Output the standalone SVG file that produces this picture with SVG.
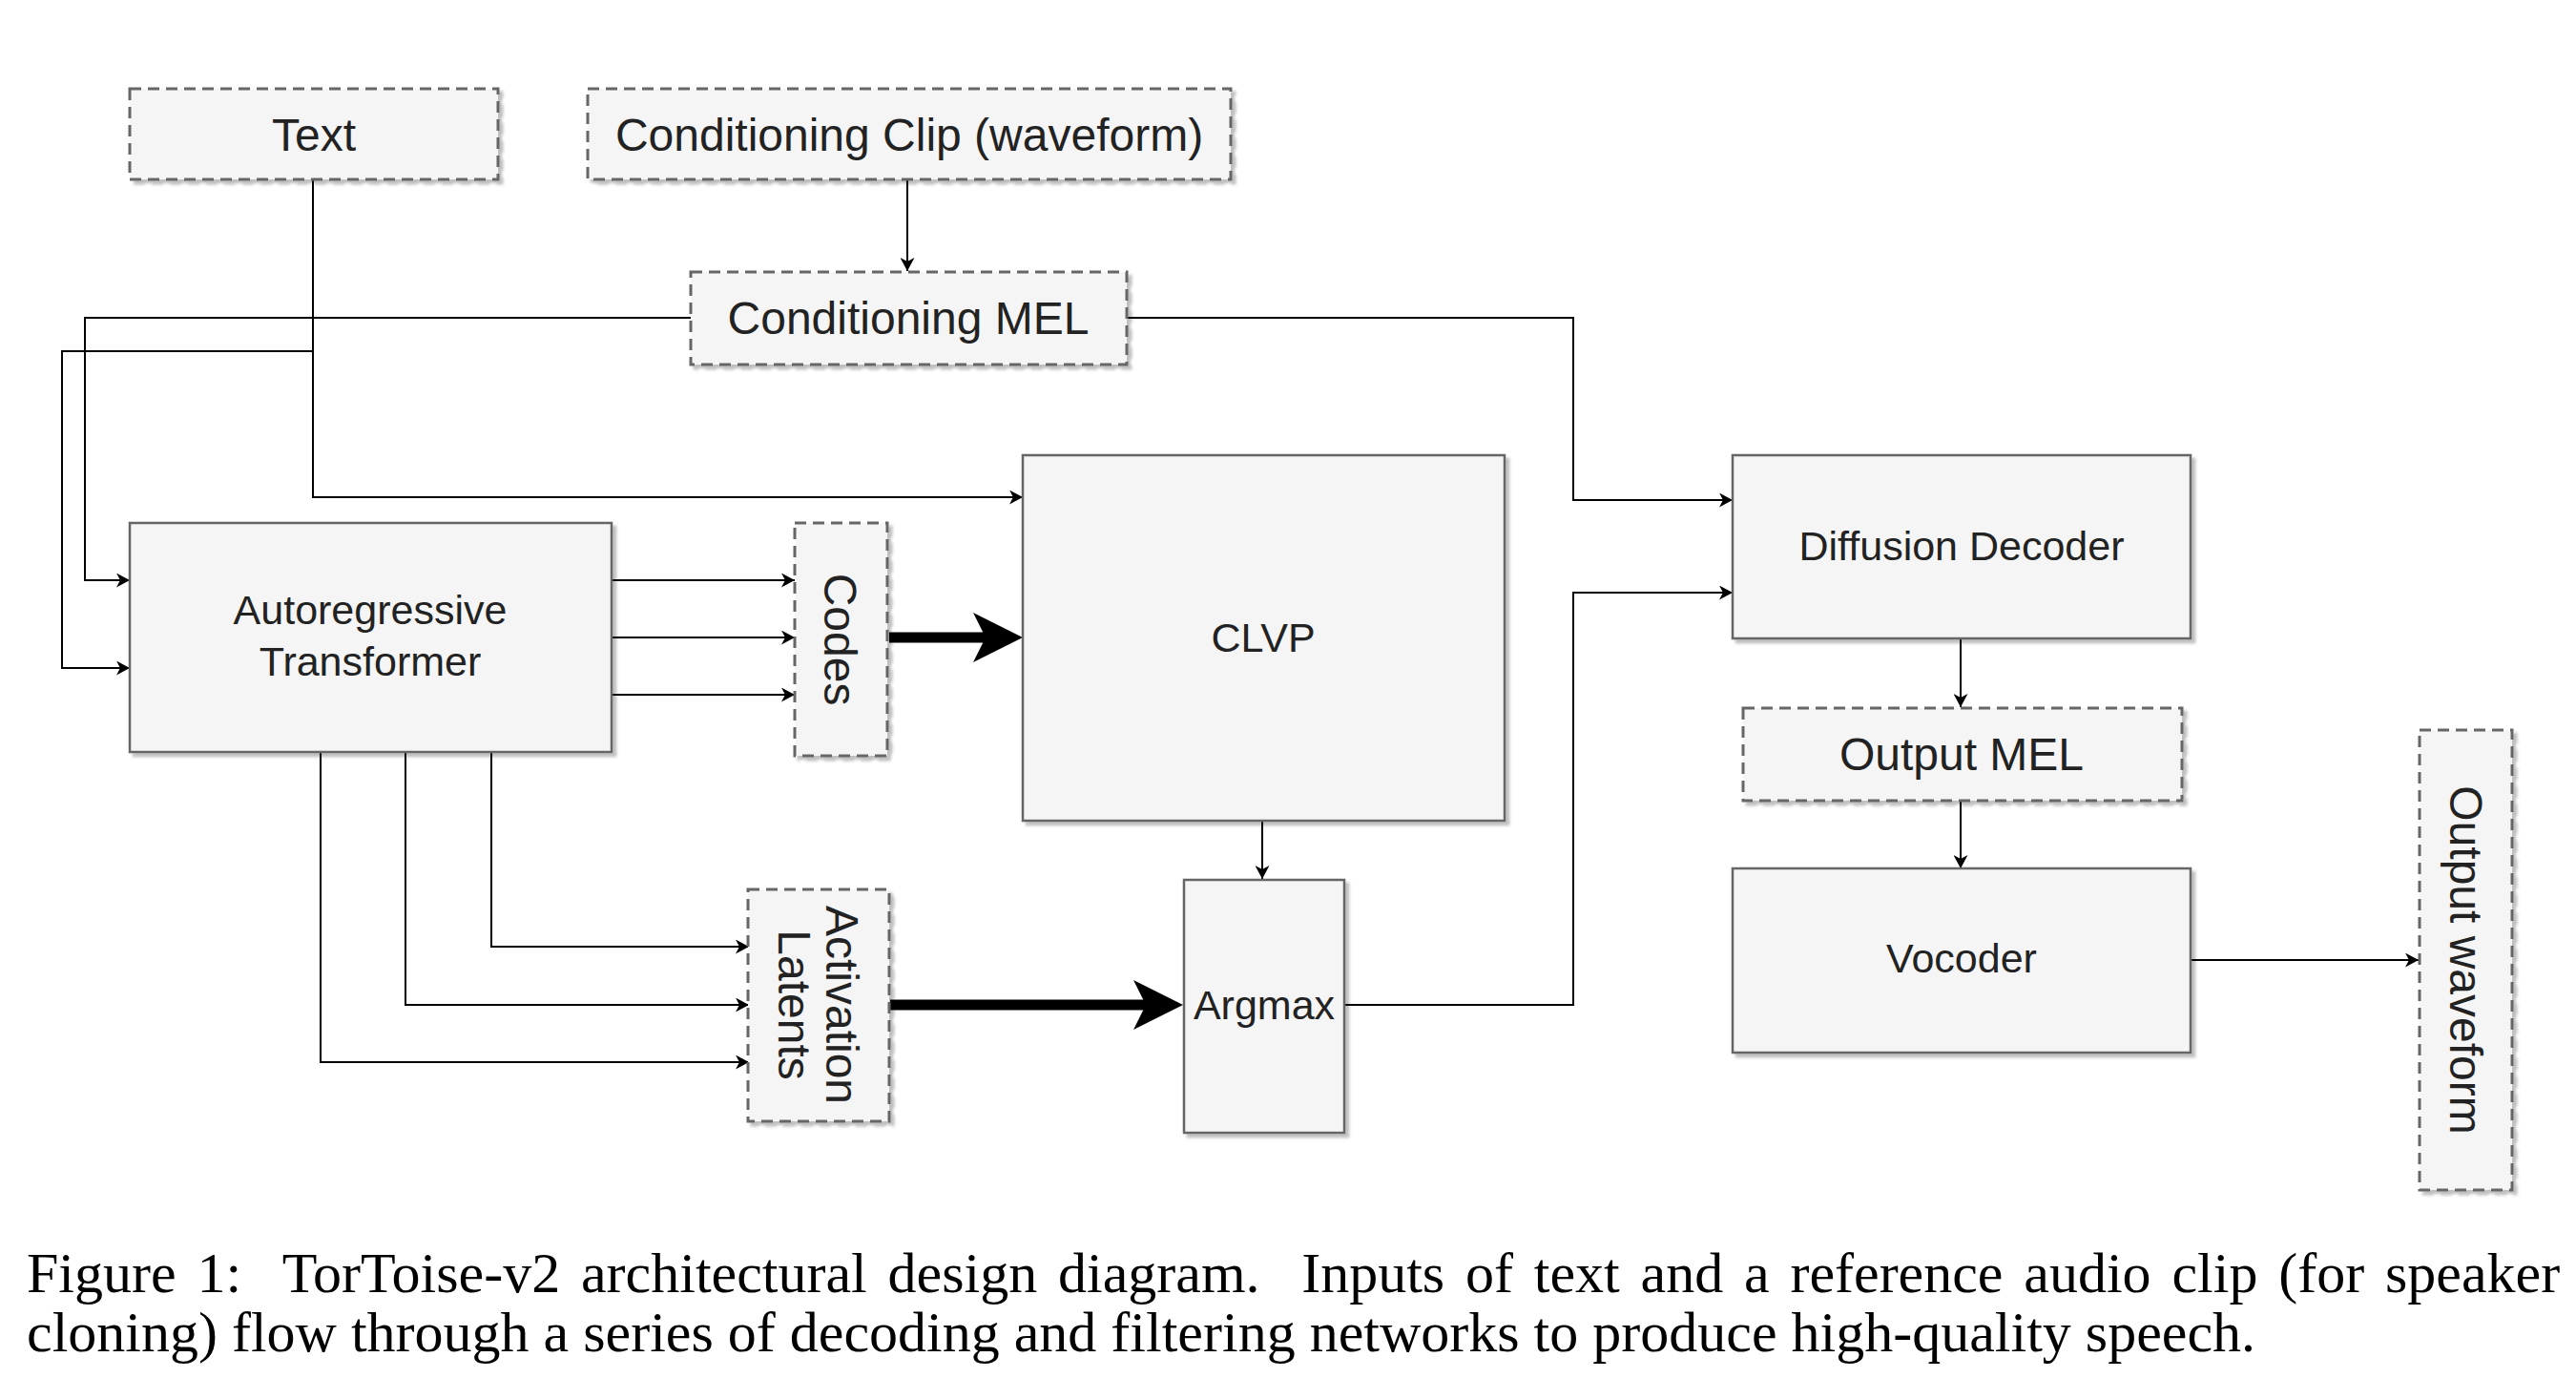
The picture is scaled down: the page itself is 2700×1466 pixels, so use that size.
<svg xmlns="http://www.w3.org/2000/svg" width="2700" height="1466" viewBox="0 0 2700 1466">
<style>
.solid{fill:#f5f5f5;stroke:#666;stroke-width:2.5;filter:url(#sh)}
.dash{fill:#f5f5f5;stroke:#666;stroke-width:3;stroke-dasharray:12 7;filter:url(#sh)}
.lbl{font-family:"Liberation Sans",Arial,sans-serif;fill:#222;text-anchor:middle}
.big{font-size:48px}
.med{font-size:43px}
.ln{fill:none;stroke:#000;stroke-width:2}
.ln2{fill:none;stroke:#000;stroke-width:2;marker-end:url(#ah)}
.thick{fill:none;stroke:#000;stroke-width:11;marker-end:url(#big)}
.cap{font-family:"Liberation Serif","Times New Roman",serif;font-size:60px;fill:#000}
</style>
<defs>
<filter id="sh" x="-10%" y="-10%" width="130%" height="130%">
<feDropShadow dx="4" dy="4" stdDeviation="1.5" flood-color="#000" flood-opacity="0.25"/>
</filter>
<marker id="ah" markerUnits="userSpaceOnUse" markerWidth="15" markerHeight="15" viewBox="0 0 14 15" refX="14" refY="7.5" orient="auto">
<path d="M0,0 L14,7.5 L0,15 L4,7.5 Z" fill="#000"/>
</marker>
<marker id="big" markerUnits="userSpaceOnUse" markerWidth="52" markerHeight="52" viewBox="0 0 52 52" refX="13" refY="26" orient="auto">
<path d="M0,0 L52,26 L0,52 L13,26 Z" fill="#000"/>
</marker>
</defs>

<g id="connectors">
<path class="ln2" d="M951,188 L951,284"/>
<path class="ln2" d="M328,188 L328,521 L1072,521"/>
<path class="ln2" d="M328,368 L65,368 L65,700 L136,700"/>
<path class="ln2" d="M725,333 L89,333 L89,608 L136,608"/>
<path class="ln2" d="M1180,333 L1649,333 L1649,524 L1816,524"/>
<path class="ln2" d="M641,608 L833,608"/>
<path class="ln2" d="M641,668 L833,668"/>
<path class="ln2" d="M641,728 L833,728"/>
<path class="thick" d="M932,668 L1033,668"/>
<path class="ln2" d="M1323,860 L1323,921"/>
<path class="ln2" d="M515,788 L515,992 L785,992"/>
<path class="ln2" d="M425,788 L425,1053 L785,1053"/>
<path class="ln2" d="M336,788 L336,1113 L785,1113"/>
<path class="thick" d="M933,1053 L1201,1053"/>
<path class="ln2" d="M1409,1053 L1649,1053 L1649,621 L1816,621"/>
<path class="ln2" d="M2055,669 L2055,741"/>
<path class="ln2" d="M2055,839 L2055,910"/>
<path class="ln2" d="M2296,1006 L2535,1006"/>
</g>

<g id="text-input">
<rect class="dash" x="136" y="93" width="386" height="95"/>
<text class="lbl big" x="329" y="158">Text</text>
</g>
<g id="conditioning-clip">
<rect class="dash" x="616" y="93" width="674" height="95"/>
<text class="lbl big" x="953" y="158">Conditioning Clip (waveform)</text>
</g>
<g id="conditioning-mel">
<rect class="dash" x="724" y="285" width="457" height="97"/>
<text class="lbl big" x="952" y="350">Conditioning MEL</text>
</g>
<g id="autoregressive-transformer">
<rect class="solid" x="136" y="548" width="505" height="240"/>
<text class="lbl med" x="388" y="654">Autoregressive</text>
<text class="lbl med" x="388" y="708">Transformer</text>
</g>
<g id="codes">
<rect class="dash" x="833" y="548" width="97" height="244"/>
<text class="lbl big" transform="translate(881,670) rotate(90)" x="0" y="17">Codes</text>
</g>
<g id="clvp">
<rect class="solid" x="1072" y="477" width="505" height="383"/>
<text class="lbl med" x="1324" y="683">CLVP</text>
</g>
<g id="activation-latents">
<rect class="dash" x="784" y="932" width="148" height="243"/>
<text class="lbl big" transform="translate(858,1053) rotate(90)" x="0" y="-8">Activation</text>
<text class="lbl big" transform="translate(858,1053) rotate(90)" x="0" y="42">Latents</text>
</g>
<g id="argmax">
<rect class="solid" x="1241" y="922" width="168" height="265"/>
<text class="lbl med" x="1325" y="1068">Argmax</text>
</g>
<g id="diffusion-decoder">
<rect class="solid" x="1816" y="477" width="480" height="192"/>
<text class="lbl med" x="2056" y="587">Diffusion Decoder</text>
</g>
<g id="output-mel">
<rect class="dash" x="1827" y="742" width="460" height="97"/>
<text class="lbl big" x="2056" y="807">Output MEL</text>
</g>
<g id="vocoder">
<rect class="solid" x="1816" y="910" width="480" height="193"/>
<text class="lbl med" x="2056" y="1019">Vocoder</text>
</g>
<g id="output-waveform">
<rect class="dash" x="2536" y="765" width="97" height="482"/>
<text class="lbl big" transform="translate(2585,1006) rotate(90)" x="0" y="17">Output waveform</text>
</g>

<g id="caption">
<text class="cap" x="28" y="1354" word-spacing="6.8">Figure 1:&#160; TorToise-v2 architectural design diagram.&#160; Inputs of text and a reference audio clip (for speaker</text>
<text class="cap" x="28" y="1416">cloning) flow through a series of decoding and filtering networks to produce high-quality speech.</text>
</g>
</svg>
